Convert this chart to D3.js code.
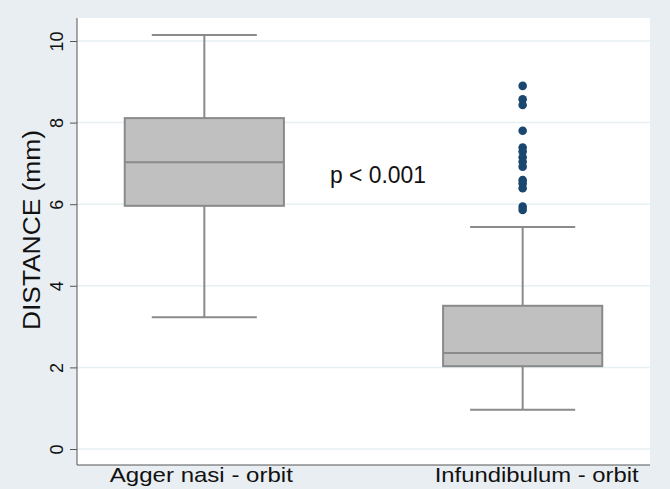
<!DOCTYPE html>
<html lang="en">
<head>
    <meta charset="UTF-8">
    <title>Distance box plot</title>
    <script src="https://d3js.org/d3.v7.min.js"></script>
    <style>
        body { margin: 0; background: #e9eef2; }
        text { font-family: "Liberation Sans", Arial, sans-serif; fill: #111; }
    </style>
</head>
<body>
<svg width="670" height="489"></svg>
<script type="text/javascript">
    // values (mm)
    let categories = ["Agger nasi - orbit", "Infundibulum - orbit"];
    let whiskerLow  = [3.23, 0.96];
    let q1          = [5.96, 2.03];
    let median      = [7.03, 2.35];
    let q3          = [8.11, 3.51];
    let whiskerHigh = [10.15, 5.44];
    let outliers    = [8.90, 8.57, 8.43, 7.80, 7.39, 7.29, 7.15, 7.04, 6.92, 6.59, 6.51, 6.39, 5.94, 5.86];
    let outlierCat  = "Infundibulum - orbit";
    let yTicks      = [0, 2, 4, 6, 8, 10];

    let svg = d3.select("svg");
    let plotL = 77, plotR = 650, plotT = 18, plotB = 465;

    svg.append("rect").attr("width", 670).attr("height", 489).attr("fill", "#e9eef2");
    svg.append("rect")
        .attr("x", plotL).attr("y", plotT)
        .attr("width", plotR - plotL).attr("height", plotB - plotT)
        .attr("fill", "#fff");

    let x = d3.scaleBand()
        .domain(categories)
        .range([plotL, plotR])
        .paddingInner(0.5)
        .paddingOuter(0.15);

    let y = d3.scaleLinear()
        .domain([0, 10])
        .range([449, 41]);

    // grid
    svg.append("g").selectAll("line")
        .data(yTicks)
        .join("line")
        .attr("x1", plotL).attr("x2", plotR)
        .attr("y1", d => y(d)).attr("y2", d => y(d))
        .attr("stroke", "#e6eff2")
        .attr("stroke-width", 1.5);

    // y axis
    let yAxis = svg.append("g")
        .attr("transform", `translate(${plotL},0)`)
        .call(d3.axisLeft(y).tickValues(yTicks).tickSize(7).tickPadding(8));
    yAxis.select(".domain").attr("d", `M0,${plotT}V${plotB}`).attr("stroke", "#555");
    yAxis.selectAll(".tick line").attr("stroke", "#555");
    yAxis.selectAll(".tick text")
        .attr("transform", "rotate(-90)")
        .attr("x", 0).attr("y", -14)
        .attr("dy", 0)
        .attr("text-anchor", "middle")
        .style("font-size", "18px")
        .style("font-family", "'Liberation Sans', Arial, sans-serif")
        .attr("fill", "#111");

    svg.append("text")
        .attr("transform", "translate(40,230) rotate(-90)")
        .attr("text-anchor", "middle")
        .attr("textLength", 200)
        .attr("lengthAdjust", "spacingAndGlyphs")
        .style("font-size", "23px")
        .text("DISTANCE (mm)");

    // x axis
    svg.append("line")
        .attr("x1", plotL).attr("x2", plotR)
        .attr("y1", plotB).attr("y2", plotB)
        .attr("stroke", "#555");
    let labelShift = [-3, 14];
    let labelWidth = [183, 204];
    svg.append("g").selectAll("text")
        .data(categories)
        .join("text")
        .attr("x", (d, i) => x(d) + x.bandwidth() / 2 + labelShift[i])
        .attr("y", 482)
        .attr("text-anchor", "middle")
        .attr("textLength", (d, i) => labelWidth[i])
        .attr("lengthAdjust", "spacingAndGlyphs")
        .style("font-size", "21px")
        .text(d => d);

    // boxes
    let boxColor = "#8a8a8a";
    let g = svg.append("g").selectAll("g")
        .data(categories)
        .join("g");

    let cx = d => x(d) + x.bandwidth() / 2;
    let capW = x.bandwidth() * 0.66;

    g.append("line")
        .attr("x1", cx).attr("x2", cx)
        .attr("y1", (d, i) => y(whiskerHigh[i])).attr("y2", (d, i) => y(q3[i]))
        .attr("stroke", boxColor).attr("stroke-width", 2);
    g.append("line")
        .attr("x1", cx).attr("x2", cx)
        .attr("y1", (d, i) => y(q1[i])).attr("y2", (d, i) => y(whiskerLow[i]))
        .attr("stroke", boxColor).attr("stroke-width", 2);
    g.append("line")
        .attr("x1", d => cx(d) - capW / 2).attr("x2", d => cx(d) + capW / 2)
        .attr("y1", (d, i) => y(whiskerHigh[i])).attr("y2", (d, i) => y(whiskerHigh[i]))
        .attr("stroke", boxColor).attr("stroke-width", 2);
    g.append("line")
        .attr("x1", d => cx(d) - capW / 2).attr("x2", d => cx(d) + capW / 2)
        .attr("y1", (d, i) => y(whiskerLow[i])).attr("y2", (d, i) => y(whiskerLow[i]))
        .attr("stroke", boxColor).attr("stroke-width", 2);
    g.append("rect")
        .attr("x", d => x(d))
        .attr("y", (d, i) => y(q3[i]))
        .attr("width", x.bandwidth())
        .attr("height", (d, i) => y(q1[i]) - y(q3[i]))
        .attr("fill", "#c0c0c0")
        .attr("stroke", boxColor).attr("stroke-width", 2);
    g.append("line")
        .attr("x1", d => x(d)).attr("x2", d => x(d) + x.bandwidth())
        .attr("y1", (d, i) => y(median[i])).attr("y2", (d, i) => y(median[i]))
        .attr("stroke", boxColor).attr("stroke-width", 2);

    // outliers
    svg.append("g").selectAll("circle")
        .data(outliers)
        .join("circle")
        .attr("cx", cx(outlierCat))
        .attr("cy", d => y(d))
        .attr("r", 4.3)
        .attr("fill", "#1a476f");

    svg.append("text")
        .attr("x", 330).attr("y", 183)
        .attr("textLength", 96)
        .attr("lengthAdjust", "spacingAndGlyphs")
        .style("font-size", "23px")
        .text("p < 0.001");
</script>
</body>
</html>
